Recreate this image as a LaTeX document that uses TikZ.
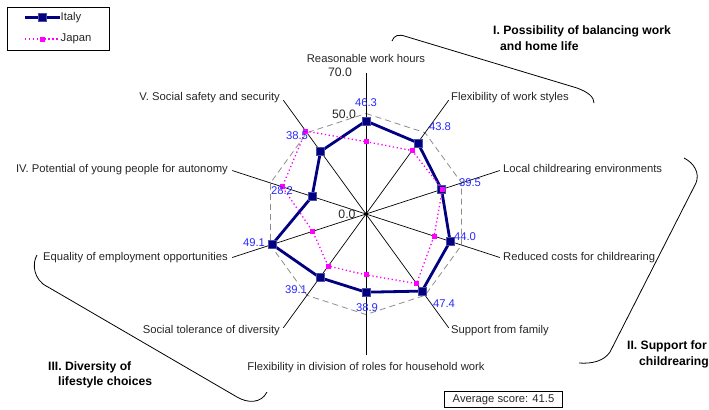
\documentclass[tikz,border=0pt]{standalone}
\usepackage{fontspec}
\setmainfont{Liberation Sans}
\definecolor{ItalyLine}{RGB}{0,0,128}
\definecolor{JapanLine}{RGB}{255,0,255}
\definecolor{ScoreText}{RGB}{40,40,255}
\colorlet{GridLine}{black!45}
\usetikzlibrary{calc}

\begin{document}
\begin{tikzpicture}[x=1bp, y=-1bp,
    axisline/.style={black, line width=0.7bp},
    gridline/.style={GridLine, line width=0.8bp, dash pattern=on 6bp off 4bp},
    itline/.style={ItalyLine, line width=2.8bp, line join=round},
    jpline/.style={JapanLine, line width=1.3bp, dash pattern=on 1.3bp off 2.6bp},
    itmark/.style={fill=ItalyLine, draw=ItalyLine!70, line width=0.4bp, inner sep=0pt, minimum size=8bp},
    jpmark/.style={fill=JapanLine, inner sep=0pt, minimum size=5bp},
    axislabel/.style={font=\fontsize{11.3}{13}\selectfont, text=black!85, inner sep=1bp, text height=8bp, text depth=2.3bp},
    scorelabel/.style={axislabel, text=ScoreText},
    scalelabel/.style={font=\fontsize{12.3}{14}\selectfont, text=black!85, inner sep=0pt, text height=8.8bp, text depth=0pt},
    grouptitle/.style={font=\fontsize{12.2}{15.6}\selectfont\bfseries, align=left, inner sep=0pt, anchor=north west}]

\useasboundingbox (0,0) rectangle (709,409);
\def\rs{2.01}

% Leyenda
\draw[line width=0.8bp] (7,7) rectangle (109,50);
\coordinate (itA) at (25,17.3);
\coordinate (itB) at (60,17.3);
\coordinate (jpA) at (25,39);
\coordinate (jpB) at (60,39);
\draw[itline] (itA) -- (itB);
\node[itmark] (itkey) at ($(itA)!0.5!(itB)$) {};
\node[axislabel, anchor=west, inner sep=0.5bp] (itname) at (itB) {Italy};
\draw[jpline] (jpA) -- (jpB);
\node[jpmark] (jpkey) at ($(jpA)!0.5!(jpB)$) {};
\node[axislabel, anchor=west, inner sep=0.5bp] (jpname) at (jpB) {Japan};

% Ejes, rejilla y series del radar
\begin{scope}[shift={(366,214)}]
\coordinate (O) at (0,0);
\foreach \k in {0,...,9} {
    \coordinate (ax\k) at ({36*\k-90}:{70*\rs});
    \coordinate (g\k) at ({36*\k-90}:{50*\rs});
}
\foreach \v [count=\k from 0] in {46.3,43.8,39.5,44.0,47.4,38.9,39.1,49.1,28.2,38.5}
    \coordinate (it\k) at ({36*\k-90}:{\v*\rs});
\foreach \v [count=\k from 0] in {36.0,39.0,40.0,35.6,42.8,30.3,32.0,27.9,43.8,51.0}
    \coordinate (jp\k) at ({36*\k-90}:{\v*\rs});

\draw[gridline] (g0) \foreach \k in {1,...,9}{ -- (g\k)} -- cycle;
\foreach \k in {0,...,9}
    \draw[axisline] (O) -- (ax\k);
\fill (O) circle (1.8);

% Dibujar la serie de Italia y luego la de Japón encima
\draw[itline] (it0) \foreach \k in {1,...,9}{ -- (it\k)} -- cycle;
\foreach \k in {0,...,9}
    \node[itmark] (itm\k) at (it\k) {};
\draw[jpline] (jp0) \foreach \k in {1,...,9}{ -- (jp\k)} -- cycle;
\foreach \k in {0,...,9}
    \node[jpmark] (jpm\k) at (jp\k) {};
\end{scope}

% Valores de la escala
\node[scalelabel] (s70) at (340,72) {70.0};
\node[scalelabel] (s50) at (344,114) {50.0};
\node[scalelabel] (s0) at (347,214) {0.0};

% Nombres de los ejes
\node[axislabel] (lab0) at (366,60) {Reasonable work hours};
\node[axislabel, anchor=west] (lab1) at (450,97.5) {Flexibility of work styles};
\node[axislabel, anchor=west] (lab2) at (502,169.5) {Local childrearing environments};
\node[axislabel, anchor=west] (lab3) at (502,258) {Reduced costs for childrearing};
\node[axislabel, anchor=west] (lab4) at (450,331) {Support from family};
\node[axislabel] (lab5) at (366,368) {Flexibility in division of roles for household work};
\node[axislabel, anchor=east] (lab6) at (281,331) {Social tolerance of diversity};
\node[axislabel, anchor=east] (lab7) at (229,258) {Equality of employment opportunities};
\node[axislabel, anchor=east] (lab8) at (229,169.5) {IV. Potential of young people for autonomy};
\node[axislabel, anchor=east] (lab9) at (281,97.5) {V. Social safety and security};

% Puntajes de Italia
\node[scorelabel] (v0) at (366,104) {46.3};
\node[scorelabel] (v1) at (440,128) {43.8};
\node[scorelabel] (v2) at (470,184) {39.5};
\node[scorelabel] (v3) at (465,238) {44.0};
\node[scorelabel] (v4) at (444,305) {47.4};
\node[scorelabel] (v5) at (367,309) {38.9};
\node[scorelabel] (v6) at (296,291) {39.1};
\node[scorelabel] (v7) at (254,244) {49.1};
\node[scorelabel] (v8) at (282,192) {28.2};
\node[scorelabel] (v9) at (297,137) {38.5};

% Llaves de los grupos
\draw[line width=0.8bp] (392,41) .. controls (394,35) and (399,34) .. (406,36.5)
    -- (577,88) .. controls (588,92) and (594,97) .. (594,103);
\draw[line width=0.8bp] (684,158) .. controls (694,163) and (700,173) .. (696,183)
    -- (610,352) .. controls (604,361) and (592,364) .. (579,363);
\draw[line width=0.8bp] (37,255) .. controls (32,263) and (33,280) .. (48,287)
    -- (237,397) .. controls (247,403) and (261,404) .. (267,392);

% Títulos de los grupos
\node[grouptitle] (grp1) at (493,25.5) {I. Possibility of balancing work\\\hspace*{7bp}and home life};
\node[grouptitle] (grp2) at (627,340.5) {II. Support for\\\hspace*{12bp}childrearing};
\node[grouptitle] (grp3) at (48,361) {III. Diversity of\\\hspace*{10bp}lifestyle choices};

% Promedio
\node[draw, line width=0.8bp, axislabel, inner xsep=8bp, inner ysep=3bp] (avg) at (503.5,399.5) {Average score: 41.5};

\end{tikzpicture}
\end{document}
